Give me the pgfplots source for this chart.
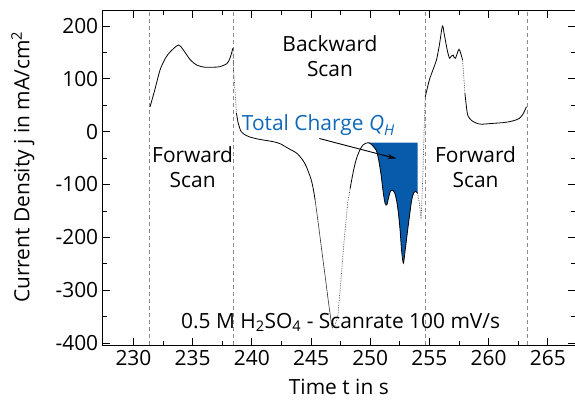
\documentclass[border=0pt]{standalone}
\usepackage{pgfplots}
\pgfplotsset{compat=1.18}
\usepackage{fontspec}
\setmainfont{Open Sans}
\usetikzlibrary{calc,arrows.meta}
\definecolor{qblue}{RGB}{8,90,170}
\definecolor{qtext}{RGB}{16,104,186}
\newcommand{\lbl}{\fontsize{21}{25}\selectfont}

\begin{document}
\begin{tikzpicture}
\begin{axis}[
  scale only axis,
  width=472.3bp, height=334.3bp,
  xmin=227.4, xmax=267.3,
  ymin=-404, ymax=229,
  xtick={230,235,...,265},
  ytick={-400,-300,...,200},
  minor tick num=1,
  tick pos=both,
  tick align=inside,
  major tick length=7bp,
  minor tick length=4bp,
  axis line style={line width=0.8bp},
  every tick/.style={line width=0.7bp, black},
  /pgf/number format/assume math mode=true,
  ticklabel style={font=\lbl},
  xticklabel style={yshift=-2bp},
  yticklabel style={xshift=-1bp},
  xlabel={Time t in s},
  ylabel={Current Density j in mA/cm\textsuperscript{2}},
  label style={font=\lbl},
  xlabel style={at={(axis description cs:0.5,-0.126)}, anchor=center},
  ylabel style={at={(axis description cs:-0.169,0.532)}, anchor=center},
  clip=false,
]

% integrated hydrogen region
\addplot[fill=qblue, draw=none] coordinates {
  (249.8,-21) (250.1,-24) (250.5,-35) (250.7,-52) (250.9,-79) (251.1,-115)
  (251.25,-135) (251.4,-139) (251.55,-125) (251.7,-113) (251.9,-111)
  (252.1,-118) (252.3,-140) (252.5,-180) (252.65,-225) (252.8,-249)
  (252.95,-225) (253.2,-180) (253.5,-130) (253.7,-115) (253.85,-113)
  (254.0,-117) (254.0,-21)
} -- cycle;

% scan boundaries
\foreach \t in {231.35,238.43,254.65,263.25} {
  \edef\tmp{\noexpand\addplot[black!45, line width=0.8bp, dash pattern=on 4bp off 3bp]
    coordinates {(\t,-404) (\t,229)};}
  \tmp
}

% forward scan 1
\addplot[black, line width=0.8bp, smooth] coordinates {
  (231.4,47) (231.8,79) (232.25,117) (232.7,139) (233.1,151) (233.8,164)
  (234.2,155) (234.8,136) (235.35,126) (236.0,122) (236.7,122) (237.3,123)
  (237.9,129) (238.15,139) (238.4,158)
};
\addplot[black!70, densely dotted, line width=0.7bp] coordinates {
  (238.4,158) (238.45,117) (238.6,70) (238.7,35)
};
% backward scan
\addplot[black, line width=0.8bp, smooth] coordinates {
  (238.7,35) (238.85,16) (239.1,0) (239.5,-7) (239.8,-10) (240.5,-14)
  (241.0,-16) (241.8,-19) (242.4,-23) (243.1,-32) (243.8,-41) (244.3,-54)
  (244.6,-66) (245.0,-90) (245.2,-110) (245.35,-130)
};
\addplot[black!80, line width=0.6bp] coordinates {
  (245.35,-130) (245.65,-180) (245.9,-224) (246.2,-275) (246.45,-319)
  (246.7,-360) (246.8,-372)
};
\addplot[black!70, densely dotted, line width=0.7bp] coordinates {
  (246.8,-372) (247.0,-368) (247.26,-350) (247.55,-275) (247.8,-205)
  (248.1,-135) (248.3,-108)
};
\addplot[black, line width=0.8bp, smooth] coordinates {
  (248.3,-108) (248.55,-78) (248.8,-54) (249.1,-36) (249.4,-25) (249.8,-21)
  (250.1,-24) (250.5,-35) (250.7,-52) (250.9,-79) (251.1,-115)
  (251.25,-135) (251.4,-139) (251.55,-125) (251.7,-113) (251.9,-111)
  (252.1,-118) (252.3,-140) (252.5,-180) (252.65,-225) (252.8,-249)
  (252.95,-225) (253.2,-180) (253.5,-130) (253.7,-115) (253.85,-113)
  (254.0,-117)
};
\addplot[black!70, densely dotted, line width=0.7bp] coordinates {
  (254.0,-117) (254.15,-135) (254.3,-167) (254.45,-80) (254.55,0) (254.65,66)
};
% forward scan 2
\addplot[black, line width=0.8bp, smooth] coordinates {
  (254.65,66) (255.0,98) (255.3,117) (255.6,136) (255.85,165) (256.1,200)
  (256.25,185) (256.4,167) (256.55,150) (256.7,139) (256.85,143)
  (257.0,145) (257.1,140) (257.2,139) (257.35,148) (257.5,156)
  (257.65,148) (257.8,136)
};
\addplot[black!70, densely dotted, line width=0.7bp] coordinates {
  (257.8,136) (257.9,105) (258.0,73)
};
\addplot[black, line width=0.8bp, smooth] coordinates {
  (258.0,73) (258.2,35) (258.4,25) (258.7,19) (259.1,15) (259.4,14)
  (260.0,15) (260.6,16) (261.2,17) (261.8,19) (262.3,22) (262.6,25)
  (262.9,33) (263.2,47)
};

% annotations
\node[font=\lbl, align=center] at (axis cs:246.6,143) {Backward\\Scan};
\node[font=\lbl, align=center] at (axis cs:235.0,-68) {Forward\\Scan};
\node[font=\lbl, align=center] at (axis cs:258.9,-68) {Forward\\Scan};
\node[font=\lbl, text=qtext] at (axis cs:245.6,12)
  {Total Charge \textit{Q}\raisebox{-0.45ex}{\fontsize{15}{15}\selectfont\textit{H}}};
\draw[-{Stealth[length=9bp,width=5bp]}, line width=0.9bp]
  (axis cs:245.7,-13) -- (axis cs:252.2,-51);
\node[font=\lbl] at (axis cs:247.5,-361)
  {0.5 M H\textsubscript{2}SO\textsubscript{4} - Scanrate 100 mV/s};
\end{axis}
\pgfresetboundingbox
\path[use as bounding box] ($(current axis.south west)+(-102.7bp,-67bp)$)
  rectangle ($(current axis.north east)+(0bp,10.7bp)$);
\end{tikzpicture}
\end{document}
